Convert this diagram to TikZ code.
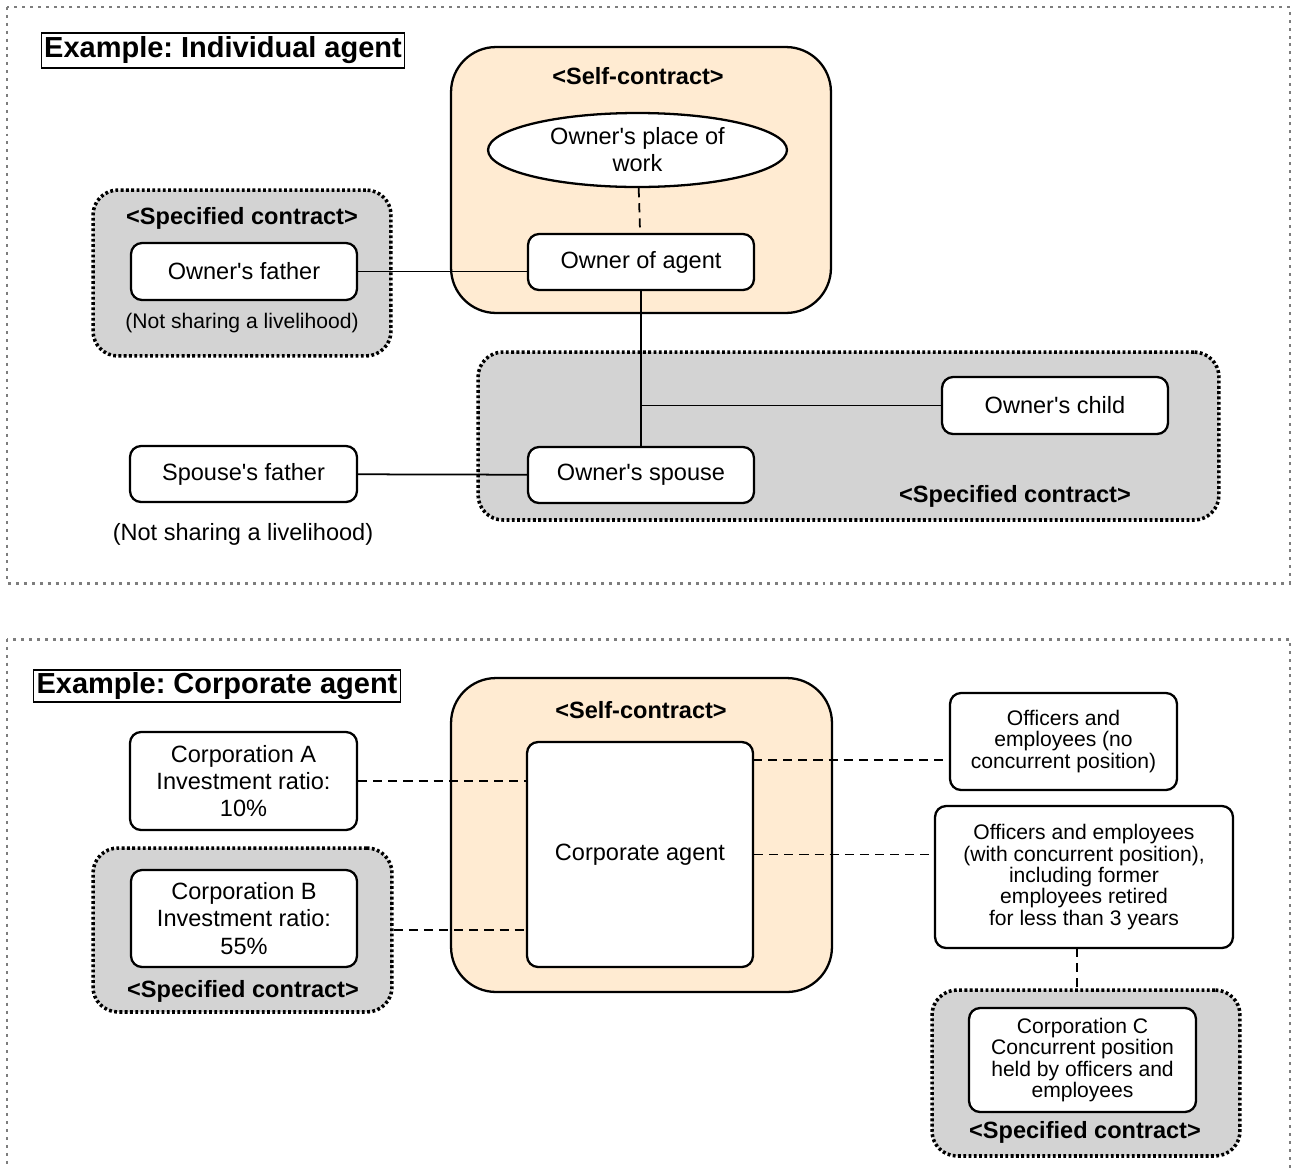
\documentclass[tikz,border=0pt]{standalone}
\usepackage{fontspec}
\setmainfont{Liberation Sans}
\usepackage{xcolor}
\usepackage{tikz}
\usetikzlibrary{shapes.geometric}
\frenchspacing

\definecolor{peach}{RGB}{255,235,210}
\definecolor{specgray}{RGB}{211,211,211}
\definecolor{framegray}{RGB}{125,125,125}

\tikzset{
  outerframe/.style={draw=framegray, line width=1.7pt, dash pattern=on 1.7pt off 2.8pt},
  selfbox/.style={draw, line width=1.3pt, fill=peach, rounded corners=9mm, inner sep=0pt},
  specbox/.style={draw, line width=2pt, dash pattern=on 1.6pt off 1.4pt, fill=specgray, rounded corners=5mm, inner sep=0pt},
  entity/.style={draw, line width=1.3pt, fill=white, rounded corners=2.2mm, align=center, inner sep=0pt,
    font=\fontsize{13.4}{15.6}\selectfont},
  smalltext/.style={font=\fontsize{12}{12.2}\selectfont},
  tagtext/.style={font=\bfseries\fontsize{13.4}{16}\selectfont},
  headbox/.style={draw, line width=0.6pt, inner sep=0pt, font=\bfseries\fontsize{16.5}{18}\selectfont},
  link/.style={line width=1pt},
  dashlink/.style={line width=1pt, dash pattern=on 5.2pt off 3.4pt},
}

\begin{document}
\begin{tikzpicture}[x=0.02cm, y=-0.02cm]
                \useasboundingbox (0,0) rectangle (1291,1167);
                % individual agent
                \draw[outerframe] (7,7) rectangle (1290,583);
                \node[headbox, minimum width=72.8mm, minimum height=7mm] (head1) at (223,50.5) {Example: Individual agent};
                \node[selfbox, minimum width=76mm, minimum height=53.2mm] (self1) at (641,180) {};
                \node[tagtext] (self1tag) at (638,76) {<Self-contract>};
                \node[ellipse, draw, line width=1.3pt, fill=white, inner sep=0pt, align=center,
                      minimum width=59.8mm, minimum height=14.8mm, font=\fontsize{13.4}{15.3}\selectfont]
                      (place) at (637.5,150) {Owner\textquotesingle s place of\\work};
                \node[entity, minimum width=45.2mm, minimum height=11.2mm] (owner) at (641,262) {Owner of agent};
                \node[specbox, minimum width=59.6mm, minimum height=33.2mm] (spec1) at (242,273) {};
                \node[tagtext] (spec1tag) at (242,218) {<Specified contract>};
                \node[entity, minimum width=45.2mm, minimum height=11.4mm] (father) at (244,271.5) {Owner\textquotesingle s father};
                \node[font=\fontsize{12}{14}\selectfont] (note1) at (242,323) {(Not sharing a livelihood)};
                \node[specbox, minimum width=148.2mm, minimum height=33.6mm] (spec2) at (848.5,436) {};
                \node[tagtext] (spec2tag) at (1015,496) {<Specified contract>};
                \node[entity, minimum width=45.2mm, minimum height=11.4mm] (child) at (1055,405.5) {Owner\textquotesingle s child};
                \node[entity, minimum width=45.2mm, minimum height=11.2mm] (spouse) at (641,475) {Owner\textquotesingle s spouse};
                \node[entity, minimum width=45.4mm, minimum height=11.2mm] (sfather) at (243.5,474) {Spouse\textquotesingle s father};
                \node[font=\fontsize{13.4}{16}\selectfont] (note2) at (243,534) {(Not sharing a livelihood)};
                \draw[dashlink] (place) -- (owner);
                \draw[link] (father.east) -- (father.east -| owner.west);
                \draw[link] (owner) -- (spouse);
                \draw[link] (owner.south |- child.west) -- (child.west);
                \draw[link] (sfather) -- (spouse);
                % corporate agent
                \draw[outerframe] (7,639) rectangle (1290,1175);
                \node[headbox, minimum width=73.6mm, minimum height=6.4mm] (head2) at (217,686) {Example: Corporate agent};
                \node[selfbox, minimum width=76.2mm, minimum height=62.8mm] (self2) at (641.5,835) {};
                \node[tagtext] (self2tag) at (641,710) {<Self-contract>};
                \node[entity, minimum width=45.2mm, minimum height=45mm] (corp) at (640,854.5) {Corporate agent};
                \node[entity, minimum width=45.4mm, minimum height=19.6mm] (corpA) at (243.5,781) {Corporation A\\Investment ratio:\\10\%};
                \node[specbox, minimum width=59.8mm, minimum height=32.8mm] (spec3) at (242.5,930) {};
                \node[entity, minimum width=45.2mm, minimum height=19.4mm] (corpB) at (244,918.5) {Corporation B\\Investment ratio:\\55\%};
                \node[tagtext] (spec3tag) at (243,991) {<Specified contract>};
                \node[entity, smalltext, minimum width=45.4mm, minimum height=19.4mm] (off1) at (1063.5,741.5)
                      {Officers and\\employees (no\\concurrent position)};
                \node[entity, smalltext, minimum width=59.6mm, minimum height=28.4mm] (off2) at (1084,877)
                      {Officers and employees\\(with concurrent position),\\including former\\employees retired\\for less than 3 years};
                \node[specbox, minimum width=61.6mm, minimum height=33.2mm] (spec4) at (1086,1073) {};
                \node[entity, smalltext, minimum width=45.4mm, minimum height=20.8mm] (corpC) at (1082.5,1060)
                      {Corporation C\\Concurrent position\\held by officers and\\employees};
                \node[tagtext] (spec4tag) at (1085,1132) {<Specified contract>};
                \coordinate (corpout) at (753,760);
                \coordinate (offdown) at (1077,948);
                \draw[dashlink] (corpA) -- (corpA -| corp.west);
                \draw[dashlink] (spec3.east) -- (spec3.east -| corp.west);
                \draw[dashlink] (corpout) -- (corpout -| off1.west);
                \draw[dashlink] (corp) -- (corp -| off2.west);
                \draw[dashlink] (offdown) -- (offdown |- spec4.north);
            \end{tikzpicture}
\end{document}
